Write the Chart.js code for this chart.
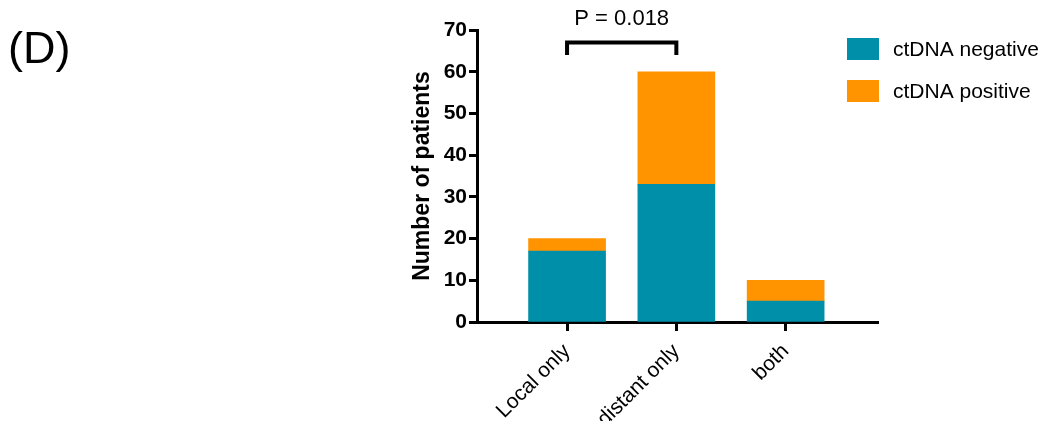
<!DOCTYPE html>
<html>
<head>
<meta charset="utf-8">
<script src="https://cdn.jsdelivr.net/npm/chart.js@4.4.1/dist/chart.umd.min.js"></script>
<style>
  html, body { margin: 0; padding: 0; background: #fff; }
  #wrap { position: relative; width: 1044px; height: 421px; }
</style>
</head>
<body>
<div id="wrap"><canvas id="c" width="1044" height="421"></canvas></div>
<script>
// Recurrence pattern by ctDNA status
const categories = ['Local only', 'distant only', 'both'];
const ctdnaNegative = [17, 33, 5];
const ctdnaPositive = [3, 27, 5];
const seriesNames = ['ctDNA negative', 'ctDNA positive'];
const seriesColors = ['#008fa8', '#ff9300'];
const yTicks = [0, 10, 20, 30, 40, 50, 60, 70];
const panelLabel = '(D)';
const pLabel = 'P = 0.018';
const bracketPair = [0, 1];          // categories compared
const bracketLevels = [64, 67];      // bracket leg bottom / bar top, in patients

const FONT = "'Liberation Sans', Arial, Helvetica, sans-serif";

const toPoints = vals => vals.map((v, i) => ({ x: i + 1, y: v }));

const overlay = {
  id: 'overlay',
  afterDraw(chart) {
    const ctx = chart.ctx;
    const xs = chart.scales.x, ys = chart.scales.y;
    ctx.save();
    // panel letter
    ctx.fillStyle = '#000';
    ctx.font = `45px ${FONT}`;
    ctx.textAlign = 'left';
    ctx.textBaseline = 'alphabetic';
    ctx.fillText(panelLabel, 8, 63);

    // significance bracket
    const x1 = xs.getPixelForValue(bracketPair[0] + 1);
    const x2 = xs.getPixelForValue(bracketPair[1] + 1);
    const yTop = ys.getPixelForValue(bracketLevels[1]);
    const yLeg = ys.getPixelForValue(bracketLevels[0]);
    ctx.strokeStyle = '#000';
    ctx.lineWidth = 4;
    ctx.lineJoin = 'miter';
    ctx.lineCap = 'butt';
    ctx.beginPath();
    ctx.moveTo(x1, yLeg);
    ctx.lineTo(x1, yTop);
    ctx.lineTo(x2, yTop);
    ctx.lineTo(x2, yLeg);
    ctx.stroke();
    ctx.font = `22px ${FONT}`;
    ctx.textAlign = 'center';
    ctx.fillText(pLabel, (x1 + x2) / 2, 25);

    // legend
    const lx = 847, boxW = 32, boxH = 22;
    const rows = [38, 80];
    ctx.font = `21px ${FONT}`;
    ctx.textAlign = 'left';
    ctx.textBaseline = 'middle';
    seriesNames.forEach((name, i) => {
      ctx.fillStyle = seriesColors[i];
      ctx.fillRect(lx, rows[i], boxW, boxH);
      ctx.fillStyle = '#000';
      ctx.fillText(name, 893, rows[i] + boxH / 2 + 1);
    });
    ctx.restore();
  }
};

new Chart(document.getElementById('c'), {
  type: 'bar',
  data: {
    datasets: [
      { label: seriesNames[0], data: toPoints(ctdnaNegative), backgroundColor: seriesColors[0], borderWidth: 0, barThickness: 77 },
      { label: seriesNames[1], data: toPoints(ctdnaPositive), backgroundColor: seriesColors[1], borderWidth: 0, barThickness: 77 }
    ]
  },
  options: {
    responsive: false,
    animation: false,
    layout: { padding: { left: 405, right: 166, top: 30, bottom: 0 } },
    plugins: { legend: { display: false }, tooltip: { enabled: false } },
    scales: {
      x: {
        type: 'linear',
        stacked: true,
        offset: false,
        min: 0.176,
        max: 3.845,
        afterBuildTicks(scale) {
          scale.ticks = categories.map((_, i) => ({ value: i + 1 }));
        },
        afterFit(scale) { scale.height = 99; },
        border: { display: true, color: '#000', width: 3 },
        grid: { display: true, offset: false, drawOnChartArea: false, drawTicks: true, tickLength: 9, tickWidth: 3, tickColor: '#000' },
        ticks: {
          autoSkip: false,
          minRotation: 45,
          maxRotation: 45,
          padding: 8,
          color: '#000',
          font: { family: FONT, size: 21 },
          callback: v => categories[Math.round(v) - 1]
        }
      },
      y: {
        stacked: true,
        min: 0,
        max: 70,
        afterBuildTicks(scale) {
          scale.ticks = yTicks.map(v => ({ value: v }));
        },
        afterFit(scale) { scale.width = 72; },
        border: { display: true, color: '#000', width: 3 },
        grid: { display: true, drawOnChartArea: false, drawTicks: true, tickLength: 8, tickWidth: 3, tickColor: '#000' },
        title: {
          display: true,
          text: 'Number of patients',
          color: '#000',
          font: { family: FONT, size: 23, weight: 'bold' }
        },
        ticks: {
          padding: 2,
          color: '#000',
          font: { family: FONT, size: 21, weight: 'bold' }
        }
      }
    }
  },
  plugins: [overlay]
});
</script>
</body>
</html>
